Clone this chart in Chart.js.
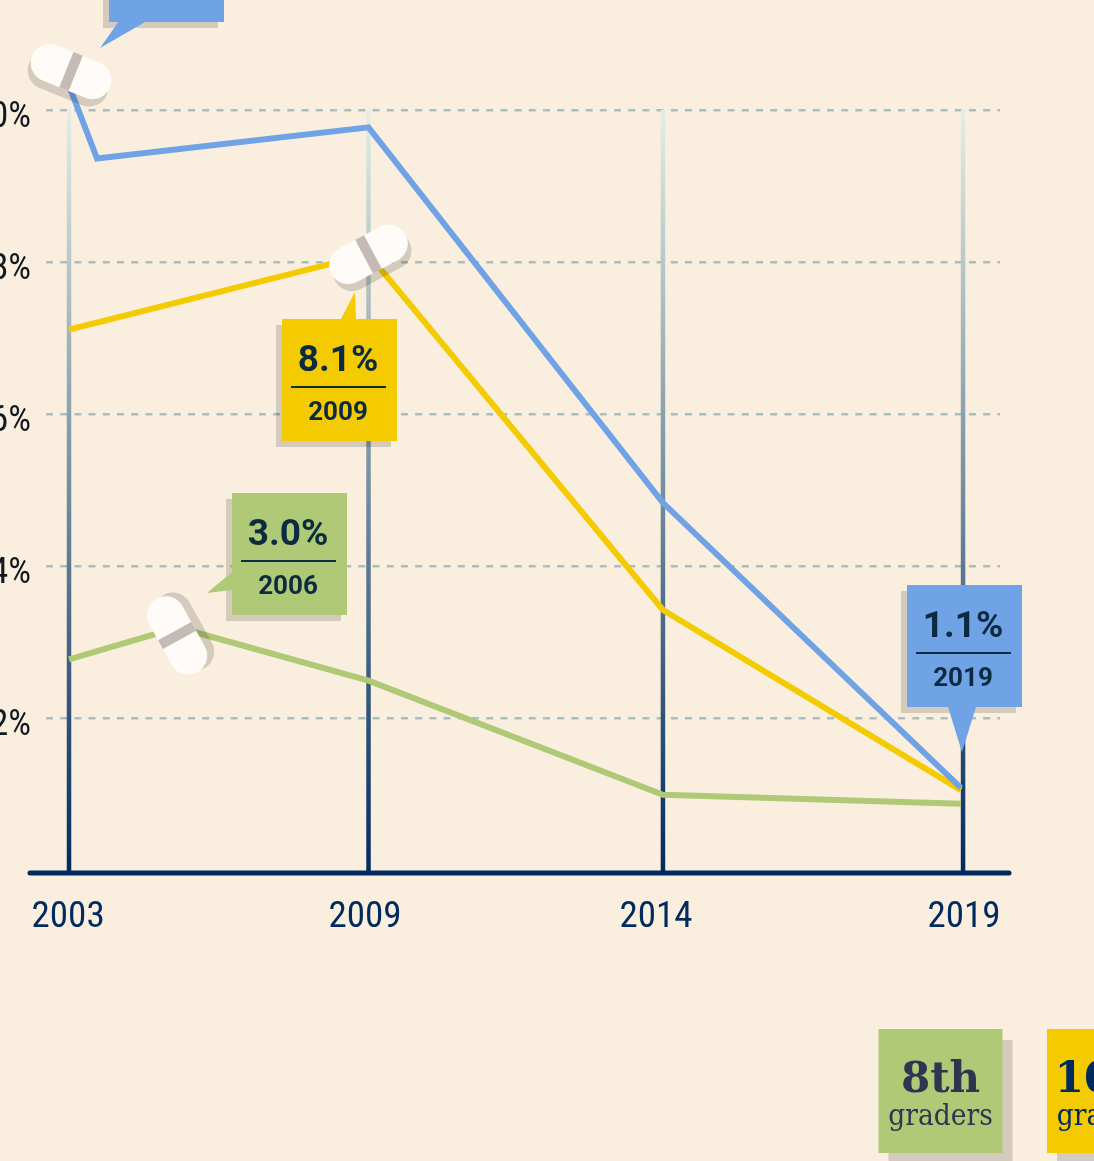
<!DOCTYPE html>
<html>
<head>
<meta charset="utf-8">
<title>Chart</title>
<script src="https://cdn.jsdelivr.net/npm/chart.js@4"></script>
<style>
  html, body { margin: 0; padding: 0; background: #faefdf; overflow: hidden; }
  canvas { display: block; }
</style>
</head>
<body>
<canvas id="lineChart" width="1094" height="1161"></canvas>
<script>
// x is in "axis steps": the survey years in the picture sit about evenly apart
const yearLabels = ["2003", "2009", "2014", "2019"];
const yearSteps = [0, 1.005, 1.993, 3];
const labelSteps = [-0.003, 0.993, 1.97, 3.003];
const yTicks = [2, 4, 6, 8, 10];

const blueSteps = [0, 0.094, 1.005, 1.993, 2.993];
const blueValues = [10.32, 9.36, 9.77, 4.83, 1.08];
const yellowSteps = [0, 1.005, 1.993, 2.993];
const yellowValues = [7.11, 8.1, 3.42, 1.05];
const greenSteps = [0, 0.366, 1.005, 1.993, 2.993];
const greenValues = [2.77, 3.19, 2.49, 0.99, 0.87];

const toPoints = (steps, values) => steps.map((s, i) => ({ x: s, y: values[i] }));

const BLUE = "#70a3e6";
const YELLOW = "#f3cb00";
const GREEN = "#afc976";
const NAVY = "#012a5e";
const SHADOW = "rgba(0,0,0,0.15)";
const NARROW = '"Roboto Condensed", Roboto, sans-serif';

// pills and callouts hang off a data point, offsets are in pixels
const pills = [
  { ds: 0, i: 0, dx: 2, dy: -14, angle: 22 },
  { ds: 1, i: 1, dx: 0, dy: 0, angle: -28 },
  { ds: 2, i: 1, dx: -1, dy: 8, angle: -119 },
];
const callouts = [
  { ds: 0, i: 0, dx: 40, dy: -186, color: BLUE, tail: [[10, 121], [38, 121], [-9, 148]] },
  { ds: 1, i: 1, dx: -87, dy: 65, color: YELLOW, big: "8.1%", small: "2009", tail: [[59, 0], [74, 0], [73, -27]] },
  { ds: 2, i: 1, dx: 54, dy: -134, color: GREEN, big: "3.0%", small: "2006", tail: [[0, 79], [-25, 100], [0, 97]] },
  { ds: 0, i: 4, dx: -54, dy: -203, color: BLUE, big: "1.1%", small: "2019", tail: [[41, 122], [69, 122], [55, 167]] },
];
const gradeBoxes = [
  { left: 878.5, color: GREEN, big: "8th", small: "graders", text: "#2d3550" },
  { left: 1047, color: YELLOW, big: "10th", small: "graders", text: NAVY },
];

const decorPlugin = {
  id: "decor",
  beforeDatasetsDraw(chart) {
    const { ctx, scales: { x, y } } = chart;
    const top = y.getPixelForValue(10);
    const bottom = chart.chartArea.bottom;
    const grad = ctx.createLinearGradient(0, top, 0, bottom);
    grad.addColorStop(0, "#e4efe3");
    grad.addColorStop(1, NAVY);
    ctx.save();
    ctx.strokeStyle = grad;
    ctx.lineWidth = 4.5;
    yearSteps.forEach((s) => {
      const px = x.getPixelForValue(s);
      ctx.beginPath();
      ctx.moveTo(px, top);
      ctx.lineTo(px, bottom);
      ctx.stroke();
    });
    // baseline runs a bit past the plot on both sides
    ctx.strokeStyle = NAVY;
    ctx.lineWidth = 5;
    ctx.lineCap = "round";
    ctx.beginPath();
    ctx.moveTo(chart.chartArea.left - 16, bottom);
    ctx.lineTo(chart.chartArea.right + 9, bottom);
    ctx.stroke();
    ctx.restore();
  },
  afterDatasetsDraw(chart) {
    const { ctx } = chart;
    const at = (o) => chart.getDatasetMeta(o.ds).data[o.i].getProps(["x", "y"], true);

    pills.forEach((p) => {
      const pt = at(p);
      ctx.save();
      ctx.translate(pt.x + p.dx, pt.y + p.dy);
      ctx.rotate((p.angle * Math.PI) / 180);
      ctx.fillStyle = SHADOW;
      ctx.beginPath();
      ctx.roundRect(-42, -11, 84, 38, 19);
      ctx.fill();
      ctx.fillStyle = "#fffbf8";
      ctx.beginPath();
      ctx.roundRect(-42, -19, 84, 38, 19);
      ctx.fill();
      ctx.fillStyle = "#c4bab6";
      ctx.fillRect(-5, -19, 10, 38);
      ctx.restore();
    });

    callouts.forEach((c) => {
      const pt = at(c);
      const left = Math.round(pt.x + c.dx);
      const top = Math.round(pt.y + c.dy);
      ctx.save();
      ctx.fillStyle = SHADOW;
      ctx.fillRect(left - 6, top + 6, 115, 122);
      ctx.fillStyle = c.color;
      ctx.fillRect(left, top, 115, 122);
      ctx.beginPath();
      c.tail.forEach(([tx, ty], n) => {
        if (n === 0) ctx.moveTo(left + tx, top + ty);
        else ctx.lineTo(left + tx, top + ty);
      });
      ctx.fill();
      if (c.big) {
        ctx.fillStyle = "#0d2b40";
        ctx.textAlign = "center";
        ctx.font = "bold 37px Roboto, sans-serif";
        ctx.fillText(c.big, left + 56, top + 52);
        ctx.fillRect(left + 9, top + 67, 95, 2);
        ctx.font = "bold 26px Roboto, sans-serif";
        ctx.fillText(c.small, left + 56, top + 101);
      }
      ctx.restore();
    });

    gradeBoxes.forEach((b) => {
      ctx.save();
      ctx.fillStyle = SHADOW;
      ctx.fillRect(b.left + 10, 1040, 124, 124);
      ctx.fillStyle = b.color;
      ctx.fillRect(b.left, 1029, 124, 124);
      ctx.fillStyle = b.text;
      ctx.textAlign = "center";
      ctx.font = 'bold 42px "DejaVu Serif", serif';
      ctx.fillText(b.big, b.left + 62, 1092);
      ctx.font = '29.5px "DejaVu Serif Condensed", "DejaVu Serif", serif';
      ctx.fillText(b.small, b.left + 62, 1125);
      ctx.restore();
    });
  },
};

new Chart(document.getElementById("lineChart").getContext("2d"), {
  type: "line",
  data: {
    datasets: [
      { label: "12th graders", data: toPoints(blueSteps, blueValues), borderColor: BLUE, borderWidth: 6, order: 1 },
      { label: "10th graders", data: toPoints(yellowSteps, yellowValues), borderColor: YELLOW, borderWidth: 6, order: 2 },
      { label: "8th graders", data: toPoints(greenSteps, greenValues), borderColor: GREEN, borderWidth: 6, order: 3 },
    ],
  },
  options: {
    responsive: false,
    animation: false,
    events: [],
    layout: { padding: { right: 94, bottom: 228 } },
    elements: {
      line: { tension: 0, borderJoinStyle: "miter", fill: false },
      point: { radius: 0 },
    },
    plugins: { legend: { display: false }, tooltip: { enabled: false } },
    scales: {
      x: {
        type: "linear",
        min: -0.0772,
        max: 3.124,
        afterBuildTicks(scale) {
          scale.ticks = labelSteps.map((v) => ({ value: v }));
        },
        afterFit(scale) {
          scale.height = 60;
        },
        grid: { display: false, drawTicks: false },
        border: { display: false },
        ticks: {
          autoSkip: false,
          maxRotation: 0,
          padding: 23,
          color: NAVY,
          font: { family: NARROW, size: 37 },
          callback(value, i) {
            return yearLabels[i];
          },
        },
      },
      y: {
        min: -0.04,
        max: 10.964,
        afterBuildTicks(scale) {
          scale.ticks = yTicks.map((v) => ({ value: v }));
        },
        afterFit(scale) {
          scale.width = 46;
        },
        grid: { color: "#a6bfc4", lineWidth: 2.5, drawTicks: false },
        border: { display: false, dash: [7, 7.2] },
        ticks: {
          autoSkip: false,
          padding: 15,
          labelOffset: 8,
          color: "#111a22",
          font: { family: NARROW, size: 36 },
          callback(value) {
            return value + "%";
          },
        },
      },
    },
  },
  plugins: [decorPlugin],
});
</script>
</body>
</html>
